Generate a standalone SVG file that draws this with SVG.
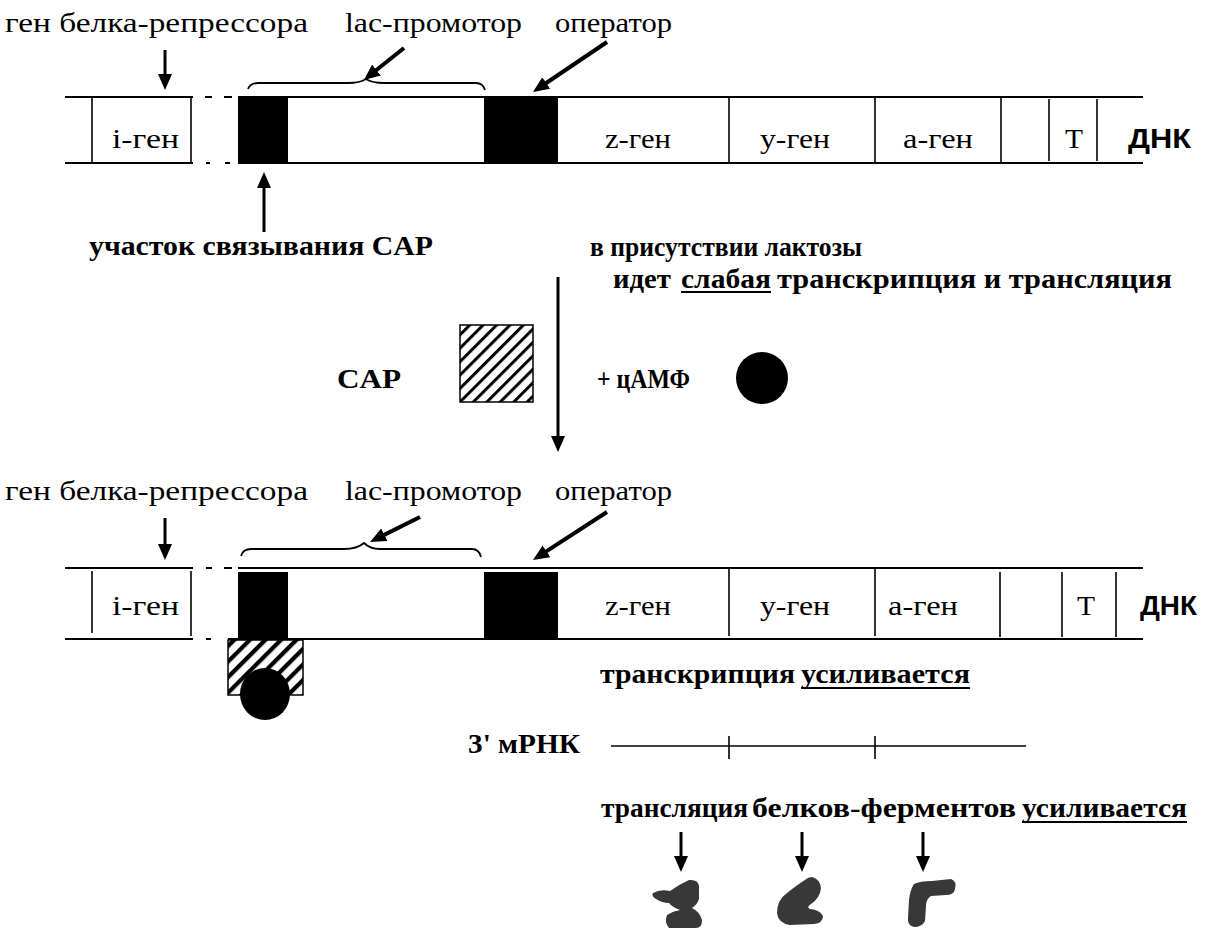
<svg xmlns="http://www.w3.org/2000/svg" width="1211" height="928" viewBox="0 0 1211 928">
  <style>
    .lbl { font-family: "Liberation Serif", "Times New Roman", Times, "DejaVu Serif", serif; font-size: 28px; fill: #000; }
    .gene { font-family: "Liberation Serif", "Times New Roman", Times, "DejaVu Serif", serif; font-size: 27px; fill: #000; }
    .bold { font-family: "Liberation Serif", "Times New Roman", Times, "DejaVu Serif", serif; font-size: 27px; font-weight: bold; fill: #000; }
    .dnk { font-family: "Liberation Sans", Arial, sans-serif; font-size: 27px; font-weight: bold; fill: #000; }
    .strand { stroke: #000; stroke-width: 2; fill: none; }
    .div { stroke: #000; stroke-width: 1.6; fill: none; }
    .arr { stroke: #000; stroke-width: 3; fill: none; marker-end: url(#ah); }
    .arrT { stroke: #000; stroke-width: 4; fill: none; marker-end: url(#ah); }
    .brace { stroke: #000; stroke-width: 1.8; fill: none; }
    .ul { stroke: #000; stroke-width: 2; }
    .protein { fill: #383838; }
  </style>
  <defs>
    <marker id="ah" markerUnits="userSpaceOnUse" markerWidth="18" markerHeight="16" refX="8" refY="8" orient="auto">
      <path d="M0,1 L16,8 L0,15 z" fill="#000"/>
    </marker>
    <pattern id="hatch" patternUnits="userSpaceOnUse" width="9.5" height="9.5" patternTransform="rotate(45)">
      <rect width="9.5" height="9.5" fill="#fff"/>
      <line x1="1.5" y1="0" x2="1.5" y2="9.5" stroke="#000" stroke-width="3"/>
    </pattern>
    <pattern id="hatch2" patternUnits="userSpaceOnUse" width="11" height="11" patternTransform="rotate(45)">
      <rect width="11" height="11" fill="#fff"/>
      <line x1="2" y1="0" x2="2" y2="11" stroke="#000" stroke-width="4.5"/>
    </pattern>
  </defs>

  <rect width="1211" height="928" fill="#fff"/>

  <!-- ===== Upper operon: basal state ===== -->
  <g id="labels-top">
    <text class="lbl" x="5" y="32" textLength="303" lengthAdjust="spacingAndGlyphs">ген белка-репрессора</text>
    <text class="lbl" x="345" y="32" textLength="177" lengthAdjust="spacingAndGlyphs">lac-промотор</text>
    <text class="lbl" x="555" y="32" textLength="117" lengthAdjust="spacingAndGlyphs">оператор</text>
  </g>

  <g id="dna-top">
    <!-- strands -->
    <line class="strand" x1="65" y1="97" x2="193" y2="97"/>
    <line class="strand" x1="65" y1="163" x2="193" y2="163"/>
    <line class="strand" x1="205" y1="97" x2="212" y2="97"/>
    <line class="strand" x1="224" y1="97" x2="232" y2="97"/>
    <line class="strand" x1="206" y1="163" x2="210" y2="163"/>
    <line class="strand" x1="225" y1="163" x2="230" y2="163"/>
    <line class="strand" x1="238" y1="97" x2="1143" y2="97"/>
    <line class="strand" x1="238" y1="163" x2="1143" y2="163"/>
    <!-- i gene -->
    <line class="div" x1="92" y1="97" x2="92" y2="163"/>
    <line class="div" x1="191" y1="97" x2="191" y2="163"/>
    <!-- CAP site and operator -->
    <rect x="238" y="97" width="50" height="66" fill="#000"/>
    <rect x="484" y="97" width="74" height="66" fill="#000"/>
    <!-- structural gene borders -->
    <line class="div" x1="729" y1="97" x2="729" y2="163"/>
    <line class="div" x1="875" y1="97" x2="875" y2="163"/>
    <line class="div" x1="1001" y1="97" x2="1001" y2="163"/>
    <line class="div" x1="1049" y1="99" x2="1049" y2="161"/>
    <line class="div" x1="1097" y1="99" x2="1097" y2="161"/>
    <text class="gene" x="112" y="148" textLength="67" lengthAdjust="spacingAndGlyphs">i-ген</text>
    <text class="gene" x="605" y="148" textLength="66" lengthAdjust="spacingAndGlyphs">z-ген</text>
    <text class="gene" x="760" y="148" textLength="70" lengthAdjust="spacingAndGlyphs">y-ген</text>
    <text class="gene" x="903" y="148" textLength="70" lengthAdjust="spacingAndGlyphs">a-ген</text>
    <text class="gene" x="1065" y="148" textLength="18" lengthAdjust="spacingAndGlyphs">T</text>
    <text class="dnk" x="1128" y="148" textLength="63" lengthAdjust="spacingAndGlyphs">ДНК</text>
  </g>

  <g id="brace-top">
    <path class="brace" d="M248,89 Q250,83 258,83 L348,83 Q360,83 366,79 Q372,83 384,83 L476,83 Q483,83 485,90"/>
  </g>

  <g id="cap-site-label">
    <text class="bold" x="89" y="255" textLength="344" lengthAdjust="spacingAndGlyphs">участок связывания CAP</text>
  </g>

  <g id="condition-label">
    <text class="bold" x="590" y="256" textLength="272" lengthAdjust="spacingAndGlyphs">в присутствии  лактозы</text>
    <text class="bold" x="613" y="288" textLength="58" lengthAdjust="spacingAndGlyphs">идет</text>
    <text class="bold" x="681" y="288" textLength="90" lengthAdjust="spacingAndGlyphs">слабая</text>
    <text class="bold" x="777" y="288" textLength="395" lengthAdjust="spacingAndGlyphs">транскрипция и трансляция</text>
    <line class="ul" x1="681" y1="292" x2="771" y2="292"/>
  </g>

  <!-- ===== CAP + cAMP ===== -->
  <g id="cap">
    <text class="bold" x="337" y="388" textLength="64" lengthAdjust="spacingAndGlyphs">CAP</text>
    <rect x="460" y="325" width="73" height="77" fill="url(#hatch)" stroke="#000" stroke-width="1.5"/>
  </g>

  <g id="camp">
    <text class="bold" x="597" y="388" textLength="93" lengthAdjust="spacingAndGlyphs">+  цАМФ</text>
    <circle cx="762" cy="378" r="26" fill="#000"/>
  </g>

  <!-- ===== Lower operon: CAP-cAMP bound ===== -->
  <g id="labels-bottom">
    <text class="lbl" x="5" y="500" textLength="303" lengthAdjust="spacingAndGlyphs">ген белка-репрессора</text>
    <text class="lbl" x="345" y="500" textLength="177" lengthAdjust="spacingAndGlyphs">lac-промотор</text>
    <text class="lbl" x="555" y="500" textLength="117" lengthAdjust="spacingAndGlyphs">оператор</text>
  </g>

  <g id="dna-bottom">
    <line class="strand" x1="65" y1="568" x2="193" y2="568"/>
    <line class="strand" x1="65" y1="639" x2="193" y2="639"/>
    <line class="strand" x1="206" y1="568" x2="212" y2="568"/>
    <line class="strand" x1="224" y1="568" x2="232" y2="568"/>
    <line class="strand" x1="206" y1="639" x2="211" y2="639"/>
    <line class="strand" x1="238" y1="568" x2="1143" y2="568"/>
    <line class="strand" x1="228" y1="639" x2="1143" y2="639"/>
    <line class="div" x1="92" y1="571" x2="92" y2="633"/>
    <line class="div" x1="191" y1="571" x2="191" y2="636"/>
    <rect x="238" y="572" width="50" height="67" fill="#000"/>
    <rect x="484" y="572" width="74" height="67" fill="#000"/>
    <line class="div" x1="729" y1="568" x2="729" y2="636"/>
    <line class="div" x1="875" y1="568" x2="875" y2="636"/>
    <line class="div" x1="1000" y1="572" x2="1000" y2="637"/>
    <line class="div" x1="1062" y1="572" x2="1062" y2="637"/>
    <line class="div" x1="1116" y1="572" x2="1116" y2="637"/>
    <text class="gene" x="112" y="615" textLength="67" lengthAdjust="spacingAndGlyphs">i-ген</text>
    <text class="gene" x="605" y="615" textLength="66" lengthAdjust="spacingAndGlyphs">z-ген</text>
    <text class="gene" x="760" y="615" textLength="70" lengthAdjust="spacingAndGlyphs">y-ген</text>
    <text class="gene" x="888" y="615" textLength="70" lengthAdjust="spacingAndGlyphs">a-ген</text>
    <text class="gene" x="1077" y="615" textLength="18" lengthAdjust="spacingAndGlyphs">T</text>
    <text class="dnk" x="1140" y="615" textLength="57" lengthAdjust="spacingAndGlyphs">ДНК</text>
  </g>

  <g id="brace-bottom">
    <path class="brace" d="M241,556 Q243,549 251,549 L344,549 Q357,549 364,543 Q370,549 380,549 L472,549 Q479,549 481,557"/>
  </g>

  <g id="cap-camp-complex">
    <rect x="228" y="640" width="75" height="55" fill="url(#hatch2)" stroke="#000" stroke-width="1.5"/>
    <ellipse cx="265" cy="694" rx="25" ry="26" fill="#000"/>
  </g>

  <g id="transcription-label">
    <text class="bold" x="600" y="683" textLength="195" lengthAdjust="spacingAndGlyphs">транскрипция</text>
    <text class="bold" x="801" y="683" textLength="169" lengthAdjust="spacingAndGlyphs">усиливается</text>
    <line class="ul" x1="801" y1="688" x2="970" y2="688"/>
  </g>

  <g id="mrna">
    <text class="bold" x="468" y="753" textLength="112" lengthAdjust="spacingAndGlyphs">3' мРНК</text>
    <line x1="611" y1="746" x2="1026" y2="746" stroke="#000" stroke-width="1.6"/>
    <line x1="729" y1="736" x2="729" y2="759" stroke="#000" stroke-width="1.6"/>
    <line x1="875" y1="736" x2="875" y2="759" stroke="#000" stroke-width="1.6"/>
  </g>

  <g id="translation-label">
    <text class="bold" x="601" y="817" textLength="147" lengthAdjust="spacingAndGlyphs">трансляция</text>
    <text class="bold" x="752" y="817" textLength="264" lengthAdjust="spacingAndGlyphs">белков-ферментов</text>
    <text class="bold" x="1022" y="817" textLength="165" lengthAdjust="spacingAndGlyphs">усиливается</text>
    <line class="ul" x1="1022" y1="822" x2="1187" y2="822"/>
  </g>

  <!-- enzymes -->
  <g id="enzyme-z">
    <path class="protein" d="M653,893 Q660,889 670,891 Q680,884 689,880 Q698,879 699,886 L699,899 Q697,905 692,908 Q700,912 702,920 Q702,928 696,928 L669,928 Q664,922 667,915 Q673,911 680,910 Q672,907 669,903 Q662,903 656,899 Q651,896 653,893 Z"/>
  </g>
  <g id="enzyme-y">
    <path class="protein" d="M812,877 Q820,879 821,888 Q820,898 811,904 Q806,907 810,909 Q820,910 823,916 Q823,923 814,924 L790,925 Q778,923 777,913 Q777,900 787,893 Q797,885 805,880 Q808,877 812,877 Z"/>
  </g>
  <g id="enzyme-a">
    <path class="protein" d="M914,884 Q920,881 932,881 L951,879 Q957,881 955,889 Q954,895 946,895 L931,896 Q926,899 926,906 L925,921 Q922,927 914,927 Q907,925 908,918 L909,900 Q910,890 914,884 Z"/>
  </g>

  <!-- ===== Connectors ===== -->
  <g id="connectors">
    <line class="arr" x1="165" y1="50" x2="165" y2="82"/>
    <line class="arrT" x1="404" y1="48" x2="370.2" y2="75"/>
    <line class="arrT" x1="607" y1="42" x2="539.6" y2="87.5"/>
    <line class="arr" x1="264" y1="232" x2="264" y2="180"/>
    <line class="arr" x1="558" y1="277" x2="558" y2="444"/>
    <line class="arr" x1="165" y1="518" x2="165" y2="552"/>
    <line class="arrT" x1="420" y1="517" x2="377.2" y2="538.4"/>
    <line class="arrT" x1="607" y1="512" x2="539.7" y2="555.6"/>
    <line class="arr" x1="681" y1="832" x2="681" y2="864"/>
    <line class="arr" x1="802" y1="832" x2="802" y2="864"/>
    <line class="arr" x1="923" y1="832" x2="923" y2="864"/>
  </g>
</svg>
